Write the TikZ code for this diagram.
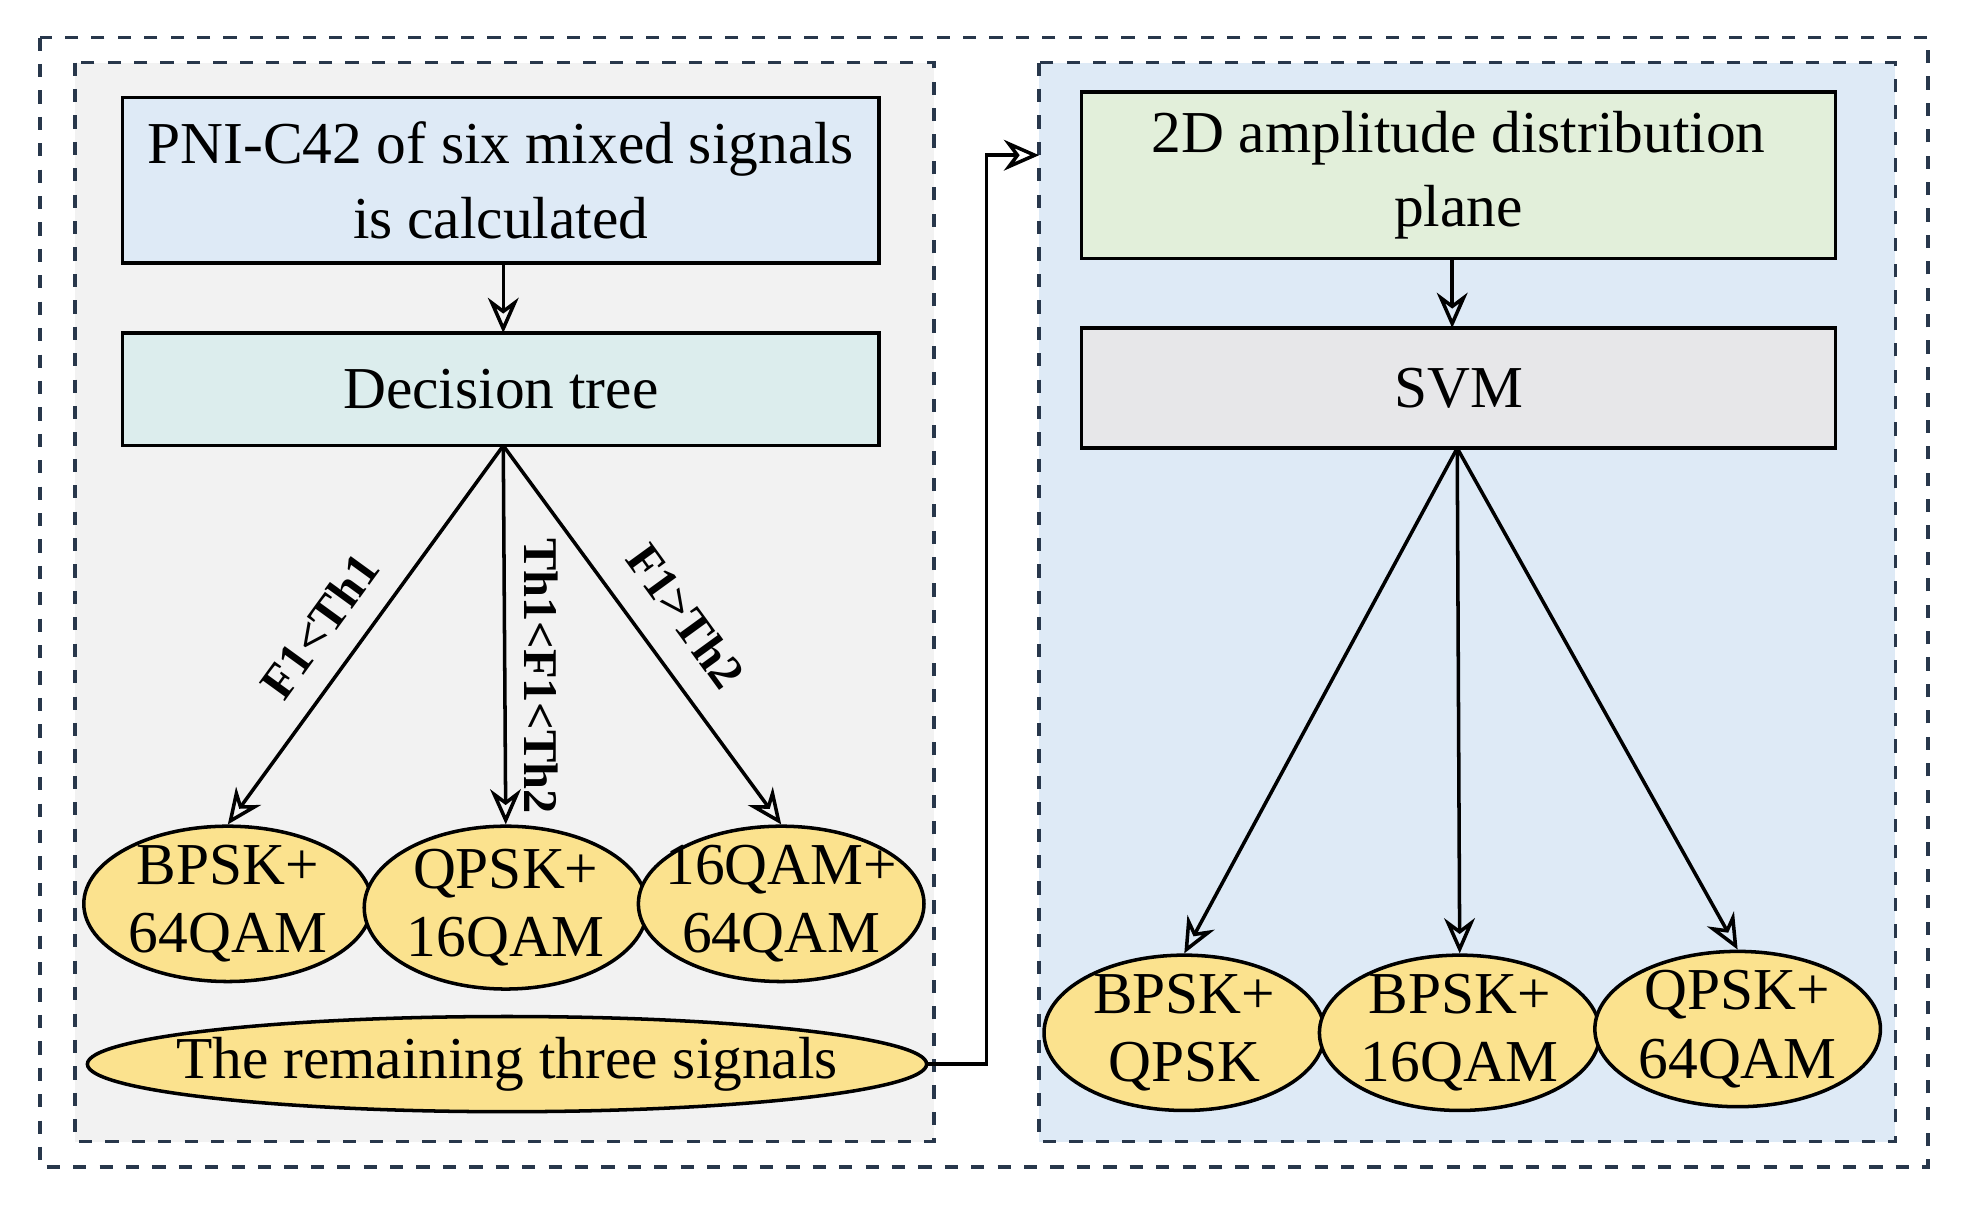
\documentclass[tikz,border=0pt]{standalone}
\usepackage{fontspec}
\setmainfont{Liberation Serif}
\usetikzlibrary{shapes.geometric,arrows.meta}
\definecolor{pblue}{RGB}{222,234,246}
\definecolor{pcyan}{RGB}{220,237,237}
\definecolor{pgreen}{RGB}{226,239,218}
\definecolor{pgray}{RGB}{231,231,233}
\definecolor{pgold}{RGB}{251,226,142}
\definecolor{dash}{RGB}{40,55,75}
\tikzset{
 box/.style={draw,thick,align=center,inner sep=2pt,font=\fontsize{13.5}{17}\selectfont},
 ell/.style={draw,thick,ellipse,fill=pgold,align=center,inner sep=-12pt,font=\fontsize{13.5}{15.5}\selectfont},
 arr/.style={thick,-{Stealth[length=8pt,width=7pt,open]}},
 lab/.style={font=\bfseries\fontsize{11}{13}\selectfont,inner sep=1pt},
 panel/.style={draw=dash,thick,dashed}
}
\begin{document}
\begin{tikzpicture}[x=0.01cm,y=-0.01cm]
\useasboundingbox (0,0) rectangle (1568,962);
\draw[panel] (32,30) rectangle (1540,932);
\draw[panel,fill=black!5] (60,50) rectangle (746,912);
\draw[panel,fill=pblue] (830,50) rectangle (1514,912);
\node[box,fill=pblue,minimum width=6.04cm,minimum height=1.32cm] (b1) at (400,144) {PNI-C42 of six mixed signals\\is calculated};
\node[box,fill=pcyan,minimum width=6.04cm,minimum height=0.9cm] (b2) at (400,311) {Decision tree};
\node[box,fill=pgreen,minimum width=6.02cm,minimum height=1.33cm] (b3) at (1165,140) {2D amplitude distribution\\plane};
\node[box,fill=pgray,minimum width=6.02cm,minimum height=0.96cm] (b4) at (1165,310) {SVM};
\node[ell,minimum width=2.3cm,minimum height=1.24cm] (e1) at (182,722) {BPSK+\\64QAM};
\node[ell,minimum width=2.26cm,minimum height=1.3cm] (e2) at (404,725) {QPSK+\\16QAM};
\node[ell,minimum width=2.28cm,minimum height=1.24cm] (e3) at (624,722) {16QAM+\\64QAM};
\node[ell,inner sep=-30pt,minimum width=6.7cm,minimum height=0.76cm] (e4) at (405,850) {The remaining three signals};
\node[ell,minimum width=2.24cm,minimum height=1.24cm] (r1) at (946,825) {BPSK+\\QPSK};
\node[ell,minimum width=2.24cm,minimum height=1.24cm] (r2) at (1166,825) {BPSK+\\16QAM};
\node[ell,minimum width=2.28cm,minimum height=1.24cm] (r3) at (1388,822) {QPSK+\\64QAM};
\coordinate (s2) at (402,356);
\coordinate (s4) at (1164,358);
\draw[arr] (402,210) -- (402,266);
\draw[arr] (1160,207) -- (1160,262);
\draw[arr] (s2) -- (e1.north);
\draw[arr] (s2) -- (e2.north);
\draw[arr] (s2) -- (e3.north);
\draw[arr] (s4) -- (r1.north);
\draw[arr] (s4) -- (r2.north);
\draw[arr] (s4) -- (r3.north);
\coordinate (t1) at (788,124);
\draw[arr] (e4.east) -| (t1) -- (830,124);
\node[lab,rotate=54] at (255,500) {F1<Th1};
\node[lab,rotate=-90] at (432,540) {Th1<F1<Th2};
\node[lab,rotate=-54] at (548,492) {F1>Th2};
\end{tikzpicture}
\end{document}
